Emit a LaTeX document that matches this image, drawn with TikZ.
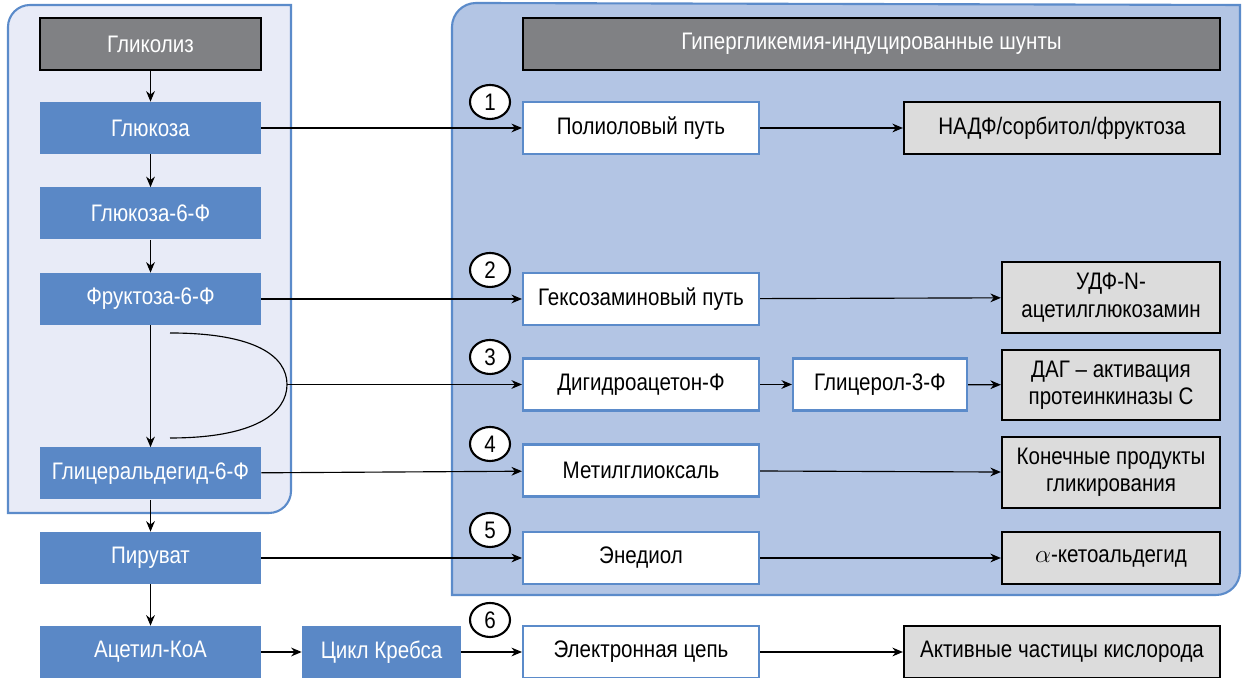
\documentclass[tikz,border=0pt]{standalone}
\usepackage{fontspec}
\setmainfont{Liberation Sans}[FakeStretch=0.86]
\usepackage{tikz}
\usetikzlibrary{arrows.meta}
\usetikzlibrary{shapes.geometric}
\definecolor{boxblue}{HTML}{5A88C6}
\definecolor{edgeblue}{HTML}{5B8BCA}
\definecolor{paneleft}{HTML}{E8EBF7}
\definecolor{panelright}{HTML}{B3C5E4}
\definecolor{headgray}{HTML}{808184}
\definecolor{resgray}{HTML}{DCDCDC}

\begin{document}
\begin{tikzpicture}[x=0.02cm,y=0.02cm,
  txt/.style={font=\fontsize{13.6}{15.6}\selectfont,align=center,inner sep=0pt},
  hdr/.style={txt,fill=headgray,draw=black,line width=1.2pt,text=white,minimum height=1.04cm},
  blk/.style={txt,fill=boxblue,text=white,minimum width=4.42cm,minimum height=1.04cm},
  wbox/.style={txt,fill=white,draw=edgeblue,line width=1.2pt,minimum width=4.72cm,minimum height=1.04cm},
  res/.style={txt,fill=resgray,draw=black,line width=1.3pt,minimum width=4.36cm,minimum height=1.04cm},
  num/.style={ellipse,draw=black,fill=white,line width=1.2pt,minimum width=0.8cm,minimum height=0.68cm,inner sep=0pt,font=\fontsize{13.6}{15.6}\selectfont},
  arr/.style={line width=0.65pt,-{Stealth[length=6pt,width=5pt]}}]
\useasboundingbox (0,0) rectangle (1244,678);
%% panels
\draw[fill=paneleft,draw=edgeblue,line width=1.2pt] (8,165) -- (8,651) arc[start angle=180,end angle=90,radius=0.44cm]
   -- (291,673) -- (291,187) arc[start angle=0,end angle=-90,radius=0.44cm] -- cycle;
\draw[fill=panelright,draw=edgeblue,line width=1.2pt] (452,83) -- (452,651) arc[start angle=180,end angle=90,radius=0.48cm]
   -- (1240,673) -- (1240,107) arc[start angle=0,end angle=-90,radius=0.48cm] -- cycle;
%% glycolysis
\node[hdr,minimum width=4.42cm] (glyk) at (150.5,634) {Гликолиз};
\node[blk] (gluc) at (150.5,550) {Глюкоза};
\node[blk] (g6f) at (150.5,464.5) {Глюкоза-6-Ф};
\node[blk] (f6f) at (150.5,379) {Фруктоза-6-Ф};
\node[blk] (gald) at (150.5,204.5) {Глицеральдегид-6-Ф};
\node[blk] (pyr) at (150.5,120) {Пируват};
\node[blk] (acoa) at (150.5,26) {Ацетил-КоА};
\node[blk,minimum width=3.18cm] (krebs) at (381.5,26) {Цикл Кребса};
%% shunts
\node[hdr,minimum width=13.94cm] (shunt) at (871.5,634) {Гипергликемия-индуцированные шунты};
\node[wbox] (poly) at (641,550) {Полиоловый путь};
\node[wbox] (hexo) at (641,379) {Гексозаминовый путь};
\node[wbox] (dhap) at (641,293.5) {Дигидроацетон-Ф};
\node[wbox,minimum width=3.48cm] (g3f) at (880,293.5) {Глицерол-3-Ф};
\node[wbox] (mgo) at (641,207.5) {Метилглиоксаль};
\node[wbox] (ened) at (641,120) {Энедиол};
\node[wbox] (etc) at (641,26) {Электронная цепь};
\node[res,minimum width=6.32cm] (nadf) at (1062,550) {НАДФ/сорбитол/фруктоза};
\node[res,minimum height=1.42cm] (udf) at (1111,380.5) {УДФ-N-\\ацетилглюкозамин};
\node[res,minimum height=1.4cm] (dag) at (1111,293) {ДАГ – активация\\протеинкиназы С};
\node[res,minimum height=1.42cm] (age) at (1111,205.5) {Конечные продукты\\гликирования};
\node[res] (keto) at (1111,120) {$\alpha$-кетоальдегид};
\node[res,minimum width=6.32cm] (ros) at (1062,26) {Активные частицы кислорода};
\foreach \n/\y in {1/576, 2/408, 3/321, 4/234, 5/148, 6/58}
  \node[num] (c\n) at (490,\y) {\n};
%% arrows
\foreach \a/\b in {glyk/gluc, gluc/g6f, g6f/f6f, f6f/gald, gald/pyr, pyr/acoa}
  \draw[arr] (\a) -- (\b);
\foreach \a/\b in {acoa/krebs, krebs/etc, gluc/poly, f6f/hexo, gald/mgo, pyr/ened,
                   poly/nadf, hexo/udf, dhap/g3f, g3f/dag, mgo/age, ened/keto, etc/ros}
  \draw[arr] (\a) -- (\b);
\coordinate (split) at (287,293.5);
\draw[line width=0.65pt] (170,345) .. controls (255,345) and (287,322) .. (split)
   .. controls (287,265) and (255,240) .. (170,240);
\draw[arr] (split) -- (dhap);
\end{tikzpicture}
\end{document}
